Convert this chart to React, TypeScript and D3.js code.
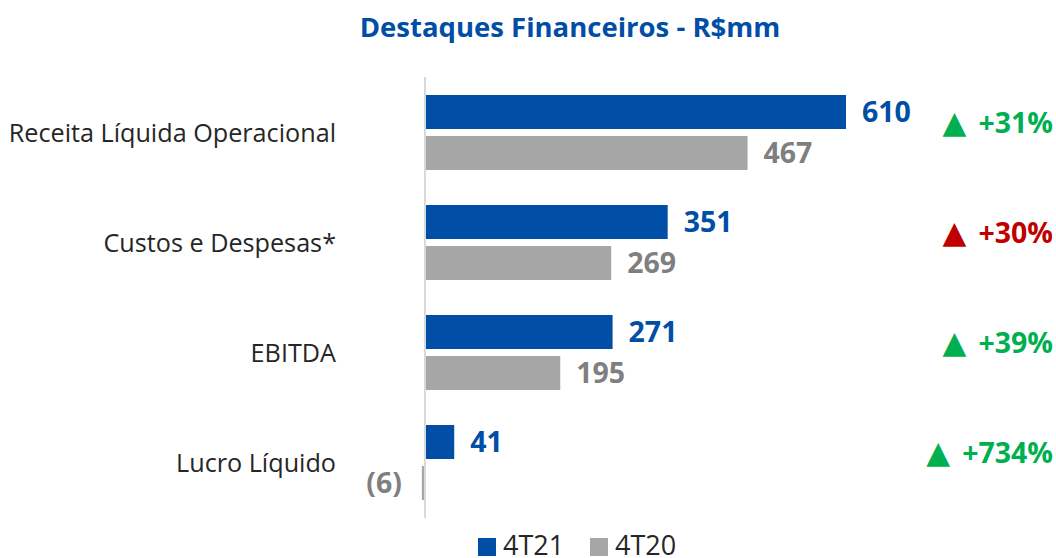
import React from "react";
import * as d3 from "d3";

const categories = ["Receita Líquida Operacional", "Custos e Despesas*", "EBITDA", "Lucro Líquido"];
const values4T21 = [610, 351, 271, 41];
const values4T20 = [467, 269, 195, -6];
const changes = ["+31%", "+30%", "+39%", "+734%"];
const changeGood = [true, false, true, true];
const seriesNames = ["4T21", "4T20"];

const W = 1056;
const H = 558;
const BLUE = "#004ea5";
const GRAY = "#a6a6a6";
const GRAY_TEXT = "#7f7f7f";
const GREEN = "#00b050";
const RED = "#c00000";
const FONT = "'Open Sans', 'Noto Sans', sans-serif";

function fmt(v: number) {
  return v < 0 ? `(${Math.abs(v)})` : `${v}`;
}

export default function App() {
  const x = d3.scaleLinear().domain([0, 610]).range([426, 846]);
  const y = d3.scaleBand<string>().domain(categories).range([95, 500]).paddingInner(35 / 110).paddingOuter(0);
  const barH = 34;
  const gap = 7;

  return (
    <svg width={W} height={H} style={{ position: "absolute", left: 0, top: 0 }} fontFamily={FONT}>
      <rect width={W} height={H} fill="#ffffff" />
      <text x={570} y={37} textAnchor="middle" fontSize={27.5} fontWeight={700} fill={BLUE}>
        Destaques Financeiros - R$mm
      </text>

      {categories.map((c, i) => {
        const y0 = y(c)!;
        const center = y0 + y.bandwidth() / 2;
        const v1 = values4T21[i];
        const v2 = values4T20[i];
        const yb = y0;
        const yg = y0 + barH + gap;
        return (
          <g key={c}>
            <text x={336} y={center + 9} textAnchor="end" fontSize={25.2} fill="#262626">
              {c}
            </text>
            <rect x={Math.min(x(0), x(v1))} y={yb} width={Math.abs(x(v1) - x(0))} height={barH} fill={BLUE} />
            <rect x={Math.min(x(0), x(v2))} y={yg} width={Math.abs(x(v2) - x(0))} height={barH} fill={GRAY} />
            <text
              x={v1 >= 0 ? x(v1) + 16 : x(v1) - 20}
              y={yb + barH / 2 + 10}
              textAnchor={v1 >= 0 ? "start" : "end"}
              fontSize={28.5}
              fontWeight={700}
              fill={BLUE}
            >
              {fmt(v1)}
            </text>
            <text
              x={v2 >= 0 ? x(v2) + 16 : x(v2) - 20}
              y={yg + barH / 2 + 10}
              textAnchor={v2 >= 0 ? "start" : "end"}
              fontSize={28.5}
              fontWeight={700}
              fill={GRAY_TEXT}
            >
              {fmt(v2)}
            </text>
            <text x={1053} y={center} textAnchor="end" fontSize={28.5} fontWeight={700} fill={changeGood[i] ? GREEN : RED}>
              <tspan fontSize={31} fontFamily="'DejaVu Sans', sans-serif">▲</tspan>
              <tspan dx={12}>{changes[i]}</tspan>
            </text>
          </g>
        );
      })}

      <line x1={425} x2={425} y1={77} y2={518} stroke="#d9d9d9" strokeWidth={2} />

      <g>
        <rect x={478} y={538} width={18} height={18} fill={BLUE} />
        <text x={503} y={555} fontSize={27} fill="#262626">{seriesNames[0]}</text>
        <rect x={590} y={538} width={18} height={18} fill={GRAY} />
        <text x={615} y={555} fontSize={27} fill="#262626">{seriesNames[1]}</text>
      </g>
    </svg>
  );
}
